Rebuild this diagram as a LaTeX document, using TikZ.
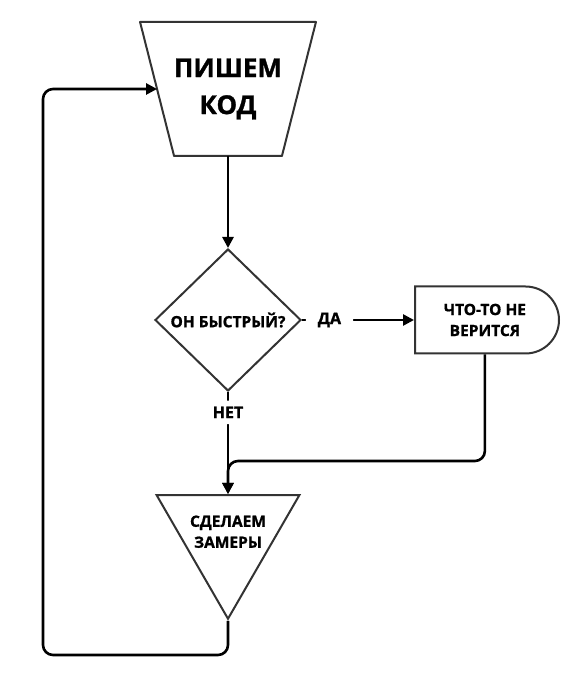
\documentclass[tikz,border=0pt]{standalone}
\usepackage{fontspec}
\setmainfont{Open Sans}[BoldFeatures={FakeBold=1.2}]
\usetikzlibrary{positioning,shapes.geometric,shapes.misc,arrows.meta}
\definecolor{outline}{HTML}{333333}
\tikzset{
  block/.style={draw=outline, line width=2pt, inner sep=0pt, align=center,
    font=\bfseries\fontsize{15.5}{21}\selectfont},
  caption/.style={align=center, inner sep=0pt, outer sep=0pt, font=\bfseries\fontsize{15.5}{21}\selectfont},
  flow/.style={line width=2.6pt, -{Triangle[length=11pt,width=11pt]}, rounded corners=10pt},
  answer/.style={fill=white, inner xsep=12pt, inner ysep=6pt,
    font=\bfseries\fontsize{16}{18}\selectfont}
}

\begin{document}
\begin{tikzpicture}[x=1pt,y=1pt]
	\useasboundingbox (0,0) rectangle (568,678);
	% shapes
	\node[caption, minimum width=103pt, minimum height=134pt,
	      font=\bfseries\fontsize{26}{37}\selectfont] (code) at (228,589) {ПИШЕМ\\КОД};
	\draw[draw=outline, line width=2pt, line join=round] (code.south west) -- ([xshift=-34pt]code.north west)
	  -- ([xshift=34pt]code.north east) -- (code.south east) -- cycle;
	\coordinate (codeleft) at ([xshift=-17pt]code.west);
	\node[block, diamond, aspect=1, minimum width=146pt, minimum height=142pt, below=92pt of code] (fast) {ОН БЫСТРЫЙ?};
	\node[block, rounded rectangle, rounded rectangle left arc=none,
	      minimum width=144pt, minimum height=67pt, right=112pt of fast] (odd) {ЧТО-ТО НЕ\\ВЕРИТСЯ};
	\node[block, regular polygon, regular polygon sides=3, shape border rotate=180,
	      minimum size=165pt, below=102pt of fast] (measure) {\strut};
	\node[caption] (measuretext) at ([yshift=4.5pt]measure.center) {СДЕЛАЕМ\\ЗАМЕРЫ};
	
	\coordinate[above=33pt of measure.north] (merge);
	\coordinate (turn) at (43,23);
	
	% connectors
	\draw[flow] (code.south) -- (fast.north);
	\draw[flow] (fast.east) -- node[answer, pos=0.245] {ДА} (odd.west);
	\draw[flow] (fast.south) -- node[answer, pos=0.2] {НЕТ} (measure.north);
	\draw[flow] (odd.south) |- (merge) -- (measure.north);
	\draw[flow] (measure.south) |- (turn) |- (codeleft);
\end{tikzpicture}
\end{document}
